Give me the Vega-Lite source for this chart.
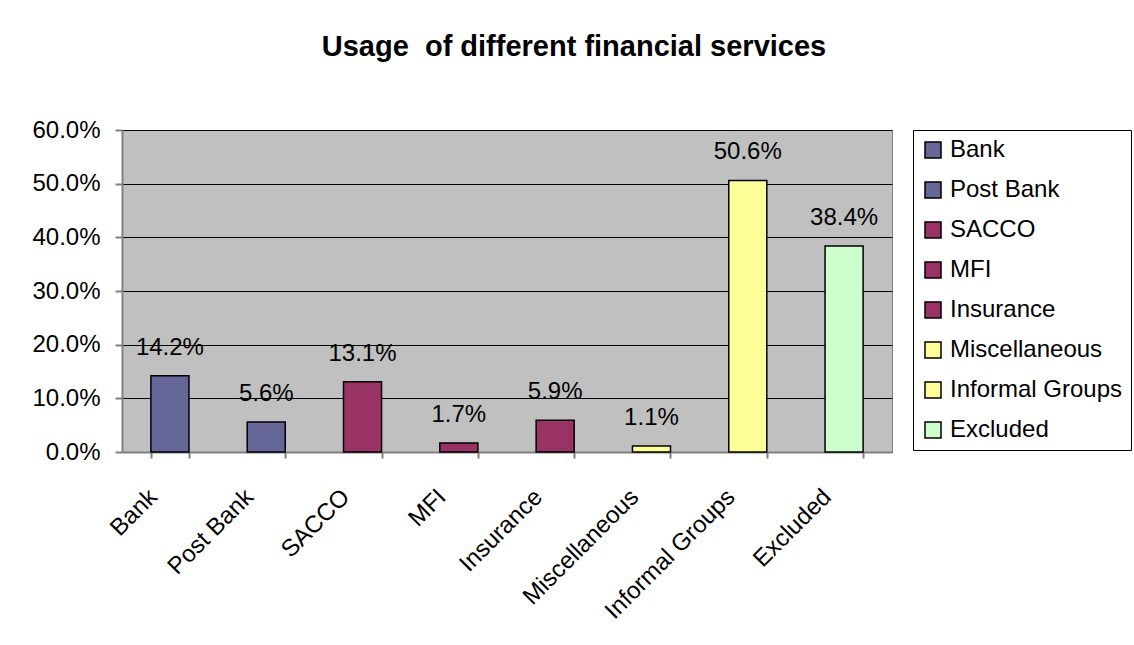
{
  "$schema": "https://vega.github.io/schema/vega-lite/v6.json",
  "autosize": "none",
  "width": 770,
  "height": 322,
  "padding": {"left": 122, "top": 130, "right": 242, "bottom": 193},
  "background": "white",
  "title": {
    "text": "Usage\u00a0 of different financial services",
    "font": "Liberation Sans",
    "fontSize": 29,
    "fontWeight": "bold",
    "color": "black",
    "anchor": "middle",
    "dx": 67,
    "offset": 56
  },
  "config": {
    "font": "Liberation Sans",
    "view": {"fill": "#C0C0C0", "stroke": "#808080", "strokeWidth": 1}
  },
  "data": {
    "values": [
      {"category": "Bank", "value": 0.142},
      {"category": "Post Bank", "value": 0.056},
      {"category": "SACCO", "value": 0.131},
      {"category": "MFI", "value": 0.017},
      {"category": "Insurance", "value": 0.059},
      {"category": "Miscellaneous", "value": 0.011},
      {"category": "Informal Groups", "value": 0.506},
      {"category": "Excluded", "value": 0.384}
    ]
  },
  "encoding": {
    "x": {
      "field": "category",
      "type": "nominal",
      "sort": null,
      "scale": {"paddingInner": 0.605, "paddingOuter": 0.3},
      "axis": {
        "title": null,
        "labelAngle": -45,
        "labelAlign": "right",
        "labelBaseline": "middle",
        "labelFontSize": 24,
        "labelColor": "black",
        "labelPadding": 35,
        "labelOffset": -17,
        "tickBand": "extent",
        "tickColor": "#808080",
        "tickSize": 6,
        "tickWidth": 2,
        "domainColor": "#808080",
        "domainWidth": 2
      }
    },
    "y": {
      "field": "value",
      "type": "quantitative",
      "scale": {"domain": [0, 0.6]},
      "axis": {
        "title": null,
        "format": ".1%",
        "values": [0, 0.1, 0.2, 0.3, 0.4, 0.5, 0.6],
        "labelFontSize": 24,
        "labelColor": "black",
        "labelPadding": 15,
        "tickColor": "#808080",
        "tickSize": 7,
        "tickWidth": 2,
        "domainColor": "#808080",
        "domainWidth": 2,
        "grid": true,
        "gridColor": "black",
        "gridWidth": 1
      }
    }
  },
  "layer": [
    {
      "mark": {"type": "bar", "stroke": "black", "strokeWidth": 1.5},
      "encoding": {
        "color": {
          "field": "category",
          "type": "nominal",
          "sort": null,
          "scale": {
            "domain": ["Bank", "Post Bank", "SACCO", "MFI", "Insurance", "Miscellaneous", "Informal Groups", "Excluded"],
            "range": ["#666699", "#666699", "#993366", "#993366", "#993366", "#FFFF99", "#FFFF99", "#CCFFCC"]
          },
          "legend": {
            "title": null,
            "orient": "right",
            "offset": 21,
            "padding": 8,
            "rowPadding": 16,
            "strokeColor": "black",
            "fillColor": "white",
            "symbolType": "square",
            "symbolSize": 256,
            "symbolStrokeColor": "black",
            "symbolStrokeWidth": 1.5,
            "symbolOpacity": 1,
            "labelFontSize": 24,
            "labelColor": "black",
            "labelOffset": 5,
            "labelLimit": 300
          }
        }
      }
    },
    {
      "mark": {"type": "text", "fontSize": 24, "color": "black", "baseline": "alphabetic", "dy": -21},
      "encoding": {
        "text": {"field": "value", "type": "quantitative", "format": ".1%"}
      }
    }
  ]
}
